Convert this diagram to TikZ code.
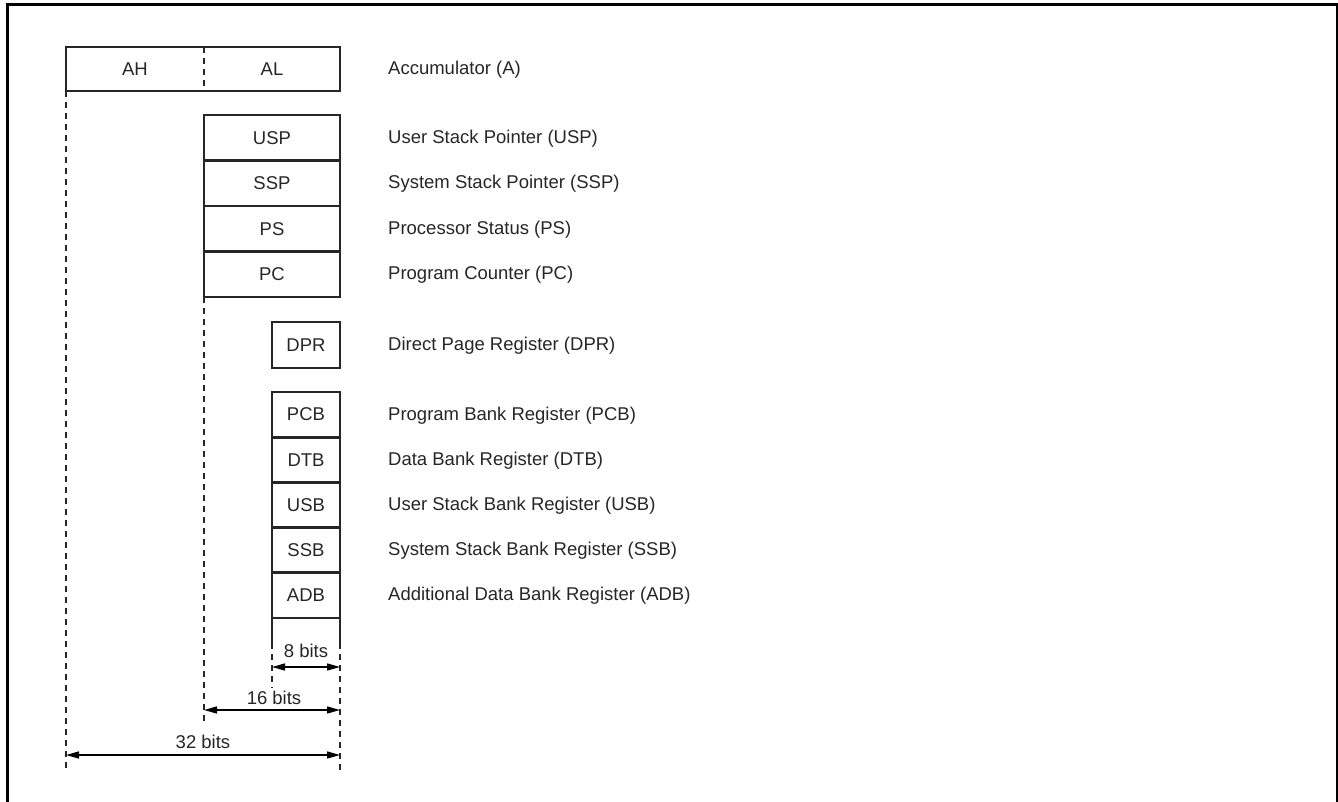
\documentclass[tikz,border=0pt]{standalone}
\usepackage{fontspec}
\setmainfont{Liberation Sans}
\usetikzlibrary{arrows.meta}
\definecolor{ink}{HTML}{262626}
\tikzset{
  reg/.style={draw=ink, line width=2.8pt, minimum height=45.5pt, inner sep=0pt, outer sep=0pt, text=ink},
  wide/.style={reg, minimum width=136pt},
  narrow/.style={reg, minimum width=68pt, minimum height=45.2pt},
  desc/.style={anchor=west, inner sep=0pt, text=ink},
  guide/.style={draw=ink, line width=1.3pt, dash pattern=on 6pt off 5pt},
  solidguide/.style={draw=ink, line width=1.3pt},
  dim/.style={draw=black, line width=1.3pt, {Triangle[length=13pt,width=7pt]}-{Triangle[length=13pt,width=7pt]}},
  dimtext/.style={inner sep=0pt, text=ink}
}
\begin{document}
\begin{tikzpicture}[x=1pt,y=-1pt, font=\fontsize{18.5}{22}\selectfont]
\useasboundingbox (0,0) rectangle (1338,802);
\clip (0,0) rectangle (1338,802);
\draw[line width=3pt, black] (7,812) -- (7,5) -- (1337,5) -- (1337,812);

% Accumulator
\node[reg, draw=none, minimum width=138pt, minimum height=44pt] (AH) at (135,69) {AH};
\node[reg, draw=none, minimum width=136pt, minimum height=44pt] (AL) at (272,69) {AL};
\draw[ink, line width=2.8pt] (AH.north west) rectangle (AL.south east);
\draw[guide] (AH.north east) -- (AH.south east);
\node[desc] (dA) at (388,70) {Accumulator (A)};

% 16-bit registers
\node[wide] (USP) at (272,137.75) {USP};
\node[wide] (SSP) at (272,183.25) {SSP};
\node[wide] (PS)  at (272,228.75) {PS};
\node[wide] (PC)  at (272,274.25) {PC};
\node[desc] (dUSP) at (388,138.5) {User Stack Pointer (USP)};
\node[desc] (dSSP) at (388,184) {System Stack Pointer (SSP)};
\node[desc] (dPS)  at (388,229.5) {Processor Status (PS)};
\node[desc] (dPC)  at (388,275) {Program Counter (PC)};

% DPR
\node[narrow, minimum height=46pt] (DPR) at (306,345) {DPR};
\node[desc] (dDPR) at (388,345.7) {Direct Page Register (DPR)};

% bank registers
\node[narrow] (PCB) at (306,414.6) {PCB};
\node[narrow] (DTB) at (306,459.8) {DTB};
\node[narrow] (USB) at (306,505.0) {USB};
\node[narrow] (SSB) at (306,550.2) {SSB};
\node[narrow] (ADB) at (306,595.4) {ADB};
\node[desc] (dPCB) at (388,415.3) {Program Bank Register (PCB)};
\node[desc] (dDTB) at (388,460.5) {Data Bank Register (DTB)};
\node[desc] (dUSB) at (388,505.7) {User Stack Bank Register (USB)};
\node[desc] (dSSB) at (388,550.9) {System Stack Bank Register (SSB)};
\node[desc] (dADB) at (388,596.1) {Additional Data Bank Register (ADB)};

% guide lines
\coordinate (g32a) at (66,772);
\coordinate (g16a) at (204,722);
\coordinate (g8s) at (272,643);
\coordinate (g8a) at (272,688);
\coordinate (gRs) at (340,643);
\coordinate (gRa) at (340,772);
\draw[guide] (AH.south west) -- (g32a);
\draw[guide] (PC.south west) -- (g16a);
\draw[solidguide] (ADB.south west) -- (g8s);
\draw[guide] (g8s) -- (g8a);
\draw[solidguide] (ADB.south east) -- (gRs);
\draw[guide] (gRs) -- (gRa);

% dimensions
\coordinate (a8l) at (272,667); \coordinate (a8r) at (340,667);
\coordinate (a16l) at (204,710); \coordinate (a16r) at (340,710);
\coordinate (a32l) at (66,755); \coordinate (a32r) at (340,755);
\draw[dim] (a8l) -- (a8r);
\draw[dim] (a16l) -- (a16r);
\draw[dim] (a32l) -- (a32r);
\node[dimtext] (t8) at (306,651) {8 bits};
\node[dimtext] (t16) at (274,698) {16 bits};
\node[dimtext] (t32) at (203,742) {32 bits};
\end{tikzpicture}
\end{document}
